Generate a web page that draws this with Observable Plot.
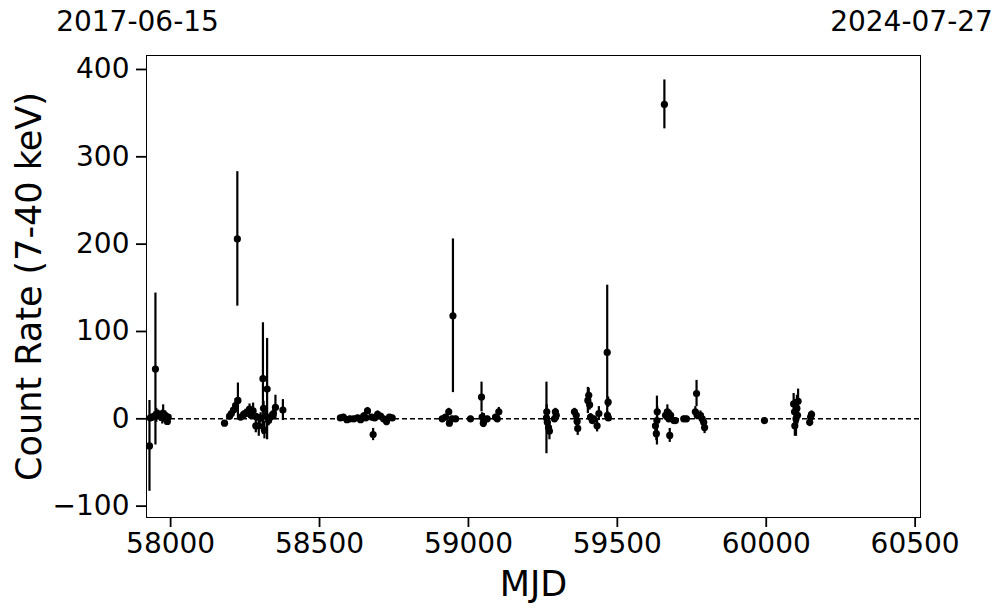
<!DOCTYPE html>
<html>
<head>
<meta charset="utf-8">
<script src="https://cdn.jsdelivr.net/npm/d3@7"></script>
<script src="https://cdn.jsdelivr.net/npm/@observablehq/plot@0.6"></script>
<style>
  html, body { margin: 0; padding: 0; background: #fff; }
  #chart { width: 997px; height: 613px; }
</style>
</head>
<body>
<div id="chart"></div>
<script>
const mjd = [
  57929, 57932, 57938, 57945, 57949, 57952, 57958, 57965, 57972, 57975, 57982, 57985, 57989, 57992,
  58181, 58198, 58204, 58211, 58218, 58224, 58226, 58235, 58245, 58251, 58258, 58265, 58270, 58277,
  58286, 58290, 58296, 58302, 58310, 58312, 58315, 58319, 58324, 58329, 58335, 58341, 58345, 58352, 58377,
  58570, 58580, 58592, 58602, 58615, 58628, 58638, 58648, 58655, 58661, 58675, 58680, 58685, 58695,
  58705, 58715, 58725, 58735, 58744,
  58912, 58923, 58934, 58936, 58945, 58948, 58957, 59007, 59044, 59046, 59052, 59050, 59063, 59091,
  59097, 59102, 59262, 59263, 59265, 59269, 59272, 59289, 59292, 59295, 59356, 59362, 59365, 59367,
  59401, 59404, 59407, 59410, 59416, 59421, 59432, 59438, 59466, 59469, 59467, 59470,
  59628, 59631, 59633, 59634, 59658, 59662, 59668, 59673, 59676, 59679, 59690, 59695, 59723, 59732,
  59762, 59766, 59768, 59779, 59785, 59790, 59793,
  59994, 60092, 60095, 60096, 60100, 60103, 60105, 60107, 60146, 60149, 60152
];
const rate = [
  -31, 1, 2, 3, 57, 4, 5, 3, 2, 6, 4, 1, -3, 2,
  -5, 3, 6, 10, 15, 206, 21, 2, 5, 6, 7, 11, 4, 9,
  -8, 2, -8, 1, 46, 12, -13, 3, 34, -2, 2, 3, 6, 13, 10,
  1, 2, -1, 0, 0, 1, -1, 3, 1, 9, 2, -18, 1, 5,
  3, 0, -3, 2, 1,
  0, 2, 8, -5, 0, 118, 0, 0, 25, 2, -2, -5, 0, 2,
  0, 8, 1, 8, -4, -10, -14, 0, 8, 4, 8, 4, -3, -11,
  21, 27, 16, 2, -2, 0, -8, 6, 76, 19, 4, 1,
  -8, -17, -2, 8, 360, 4, 8, 0, -19, 4, -2, -2, 0, 0,
  8, 29, 4, 4, 0, -4, -10,
  -2, 17, 8, -8, 0, 12, 4, 20, -4, 2, 5
];
const err = [
  52, 4, 3, 5, 87, 8, 5, 6, 8, 10, 5, 5, 4, 3,
  3, 3, 4, 5, 8, 77, 20, 3, 4, 5, 5, 6, 4, 9,
  8, 4, 12, 6, 64, 8, 10, 6, 58, 6, 5, 4, 5, 14, 12,
  3, 3, 3, 3, 3, 3, 3, 4, 3, 4, 3, 7, 3, 4,
  3, 3, 5, 3, 3,
  3, 3, 4, 4, 3, 88, 3, 3, 17, 5, 8, 5, 3, 3,
  3, 5, 41, 8, 8, 8, 10, 3, 4, 4, 4, 4, 4, 8,
  15, 8, 6, 4, 4, 3, 7, 8, 77, 6, 4, 3,
  8, 8, 28, 6, 28, 6, 8, 4, 8, 5, 3, 3, 3, 3,
  6, 15, 5, 5, 6, 6, 7,
  3, 12, 14, 12, 20, 15, 10, 14, 5, 4, 4
];
const xTicks = [58000, 58500, 59000, 59500, 60000, 60500];
const yTicks = [-100, 0, 100, 200, 300, 400];
const topDates = ["2017-06-15", "2024-07-27"];
const xDomain = [57919, 60518];
const yDomain = [-113, 416];

const data = mjd.map((m, i) => ({mjd: m, rate: rate[i], err: err[i]}));
const tops = xDomain.map((m, i) => ({mjd: m, label: topDates[i]}));

const font = "DejaVu Sans, sans-serif";
const fmtY = d => d < 0 ? "\u2212" + Math.abs(d) : String(d);

const chart = Plot.plot({
  width: 997,
  height: 613,
  marginLeft: 146,
  marginRight: 77,
  marginTop: 55,
  marginBottom: 96,
  style: {fontFamily: font, fontSize: "28px", color: "black", background: "white"},
  x: {domain: xDomain, label: null},
  y: {domain: yDomain, label: null},
  marks: [
    Plot.ruleY([0], {stroke: "black", strokeWidth: 1.5, strokeDasharray: "5,3"}),
    Plot.ruleX(data, {x: "mjd", y1: d => d.rate - d.err, y2: d => d.rate + d.err, stroke: "black", strokeWidth: 2.2}),
    Plot.dot(data, {x: "mjd", y: "rate", r: 3.6, fill: "black", stroke: "none"}),
    Plot.frame({stroke: "black", strokeWidth: 1}),
    Plot.axisX({ticks: xTicks, tickFormat: d => String(d), tickSize: 10, tickPadding: 6, strokeWidth: 1.8, fontSize: 28, label: null}),
    Plot.axisY({ticks: yTicks, tickFormat: fmtY, tickSize: 10, tickPadding: 7, strokeWidth: 1.8, fontSize: 28, label: null}),
    Plot.text(["Count Rate (7-40 keV)"], {frameAnchor: "left", dx: -117, rotate: -90, text: d => d, fontSize: 35, textAnchor: "middle", lineAnchor: "middle"}),
    Plot.text(["MJD"], {frameAnchor: "bottom", dy: 67, text: d => d, fontSize: 35, textAnchor: "middle", lineAnchor: "middle"}),
    Plot.text(tops, {x: "mjd", frameAnchor: "top", dy: -33, dx: -9, text: "label", fontSize: 28, textAnchor: "middle", lineAnchor: "middle"})
  ]
});
document.getElementById("chart").appendChild(chart);
</script>
</body>
</html>
